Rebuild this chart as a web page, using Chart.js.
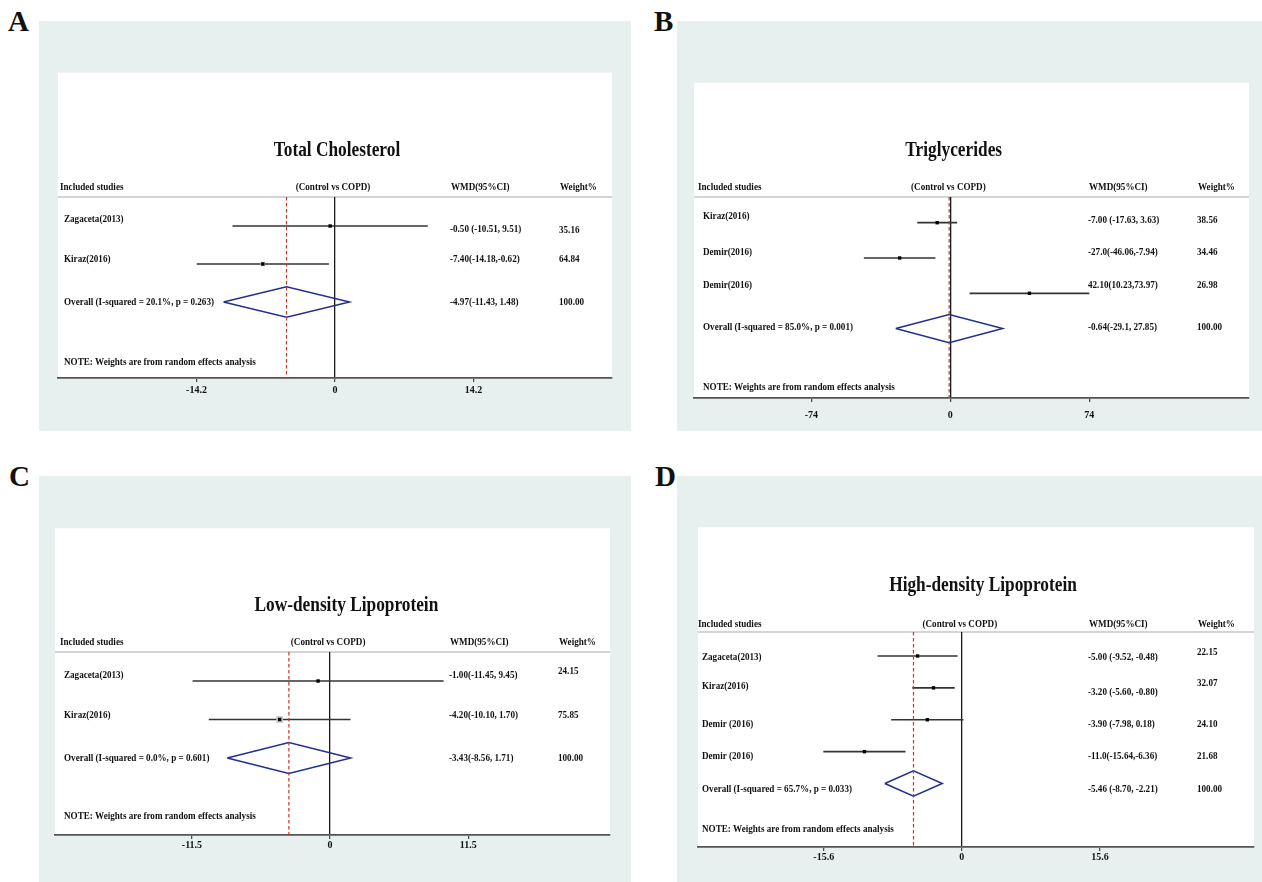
<!DOCTYPE html>
<html>
<head>
<meta charset="utf-8">
<title>Forest plots - lipid profile, Control vs COPD</title>
<script src="https://cdn.jsdelivr.net/npm/chart.js@4.4.0/dist/chart.umd.min.js"></script>
<style>
  body { margin: 0; background: #fff; width: 1262px; height: 882px; position: relative; overflow: hidden; }
  canvas { position: absolute; }
  .tag { position: absolute; font: bold 29px "Liberation Serif", "Times New Roman", serif; line-height: 29px; color: #111; }
</style>
</head>
<body>
<div class="tag" style="left:8px;top:7px">A</div>
<div class="tag" style="left:654px;top:7px">B</div>
<div class="tag" style="left:9px;top:462px">C</div>
<div class="tag" style="left:655px;top:462px">D</div>
<canvas id="chartA"></canvas>
<canvas id="chartB"></canvas>
<canvas id="chartC"></canvas>
<canvas id="chartD"></canvas>
<script>
// ---- DATA ----
// A: Total Cholesterol
const tcStudies = ["Zagaceta(2013)", "Kiraz(2016)"];
const tcEst = [-0.5, -7.4];
const tcLow = [-10.51, -14.18];
const tcHigh = [9.51, -0.62];
const tcWmd = ["-0.50 (-10.51, 9.51)", "-7.40(-14.18,-0.62)"];
const tcWeight = ["35.16", "64.84"];
const tcOverall = [-4.97, -11.43, 1.48]; // estimate, low, high
const tcOverallLabel = "Overall (I-squared = 20.1%, p = 0.263)";
const tcOverallWmd = "-4.97(-11.43, 1.48)";
const tcTicks = [-14.2, 0, 14.2];

// B: Triglycerides
const tgStudies = ["Kiraz(2016)", "Demir(2016)", "Demir(2016)"];
const tgEst = [-7.0, -27.0, 42.1];
const tgLow = [-17.63, -46.06, 10.23];
const tgHigh = [3.63, -7.94, 73.97];
const tgWmd = ["-7.00 (-17.63, 3.63)", "-27.0(-46.06,-7.94)", "42.10(10.23,73.97)"];
const tgWeight = ["38.56", "34.46", "26.98"];
const tgOverall = [-0.64, -29.1, 27.85];
const tgOverallLabel = "Overall (I-squared = 85.0%, p = 0.001)";
const tgOverallWmd = "-0.64(-29.1, 27.85)";
const tgTicks = [-74, 0, 74];

// C: Low-density Lipoprotein
const ldlStudies = ["Zagaceta(2013)", "Kiraz(2016)"];
const ldlEst = [-1.0, -4.2];
const ldlLow = [-11.45, -10.1];
const ldlHigh = [9.45, 1.7];
const ldlWmd = ["-1.00(-11.45, 9.45)", "-4.20(-10.10, 1.70)"];
const ldlWeight = ["24.15", "75.85"];
const ldlOverall = [-3.43, -8.56, 1.71];
const ldlOverallLabel = "Overall (I-squared = 0.0%, p = 0.601)";
const ldlOverallWmd = "-3.43(-8.56, 1.71)";
const ldlTicks = [-11.5, 0, 11.5];

// D: High-density Lipoprotein
const hdlStudies = ["Zagaceta(2013)", "Kiraz(2016)", "Demir (2016)", "Demir (2016)"];
const hdlEst = [-5.0, -3.2, -3.9, -11.0];
const hdlLow = [-9.52, -5.6, -7.98, -15.64];
const hdlHigh = [-0.48, -0.8, 0.18, -6.36];
const hdlWmd = ["-5.00 (-9.52, -0.48)", "-3.20 (-5.60, -0.80)", "-3.90 (-7.98, 0.18)", "-11.0(-15.64,-6.36)"];
const hdlWeight = ["22.15", "32.07", "24.10", "21.68"];
const hdlOverall = [-5.46, -8.7, -2.21];
const hdlOverallLabel = "Overall (I-squared = 65.7%, p = 0.033)";
const hdlOverallWmd = "-5.46 (-8.70, -2.21)";
const hdlTicks = [-15.6, 0, 15.6];

const NOTE = "NOTE: Weights are from random effects analysis";
const FONT = '"Liberation Serif", "Times New Roman", serif';

// ---- HELPERS ----
function txt(ctx, s, x, y, size, align, sx) {
  ctx.save();
  ctx.font = "bold " + size + "px " + FONT;
  ctx.fillStyle = "#111";
  ctx.textBaseline = "middle";
  ctx.textAlign = align;
  ctx.translate(x, y);
  ctx.scale(sx, 1);
  ctx.fillText(s, 0, 0);
  ctx.restore();
}

function forest(cfg) {
  const canvas = document.getElementById(cfg.id);
  canvas.width = cfg.box[2];
  canvas.height = cfg.box[3];
  canvas.style.left = cfg.box[0] + "px";
  canvas.style.top = cfg.box[1] + "px";

  const n = cfg.studies.length;
  const rows = cfg.studies.map((s, i) => i + 1);
  const oRow = n + 1;
  const [oEst, oLow, oHigh] = cfg.overall;

  // lower "order" is drawn on top
  const datasets = [];
  // pooled estimate (dashed red)
  datasets.push({
    order: 0,
    data: [{ x: oEst, y: cfg.y[0] }, { x: oEst, y: cfg.y[1] }],
    showLine: true, borderColor: "#c0392b", borderWidth: 1.2, borderDash: [3.5, 2.5], pointRadius: 0
  });
  // confidence intervals
  rows.forEach((r, i) => {
    datasets.push({
      order: 3,
      data: [{ x: cfg.low[i], y: r }, { x: cfg.high[i], y: r }],
      showLine: true, borderColor: "#333", borderWidth: 1.7, pointRadius: 0
    });
  });
  // weight boxes
  if (cfg.boxes) {
    datasets.push({
      order: 2,
      data: rows.map((r, i) => ({ x: cfg.est[i], y: r })),
      pointStyle: "rect", pointRadius: cfg.boxes, backgroundColor: "#c4c4c4", borderWidth: 0
    });
  }
  // point estimates
  datasets.push({
    order: 1,
    data: rows.map((r, i) => ({ x: cfg.est[i], y: r })),
    pointStyle: "rect", pointRadius: 2.4, backgroundColor: "#000", borderWidth: 0
  });
  // overall diamond
  const h = 0.4;
  datasets.push({
    order: 4,
    data: [
      { x: oLow, y: oRow }, { x: oEst, y: oRow - h }, { x: oHigh, y: oRow },
      { x: oEst, y: oRow + h }, { x: oLow, y: oRow }
    ],
    showLine: true, borderColor: "#232f8e", borderWidth: 1.5, pointRadius: 0, fill: false
  });

  const decor = {
    id: "decor" + cfg.id,
    beforeDraw(chart) {
      const { ctx, chartArea: a } = chart;
      ctx.save();
      ctx.fillStyle = "#e8f0ef";
      ctx.fillRect(0, 0, chart.width, chart.height);
      ctx.fillStyle = "#fff";
      ctx.fillRect(a.left, a.top + cfg.whiteDy, a.right - a.left, a.bottom - a.top - cfg.whiteDy);
      ctx.strokeStyle = "#d4d4d4";
      ctx.lineWidth = 2;
      ctx.beginPath();
      ctx.moveTo(a.left, a.top);
      ctx.lineTo(a.right, a.top);
      ctx.stroke();
      ctx.restore();
    },
    afterDraw(chart) {
      const { ctx, chartArea: a } = chart;
      const xs = chart.scales.x, ys = chart.scales.y;
      const L = a.left;
      txt(ctx, cfg.title, L + cfg.titleDx, a.top - 46.5, 20, "center", 0.865);
      const hy = a.top + cfg.headDy;
      txt(ctx, "Included studies", L + cfg.col[0], hy, 10, "left", 0.91);
      txt(ctx, "(Control vs COPD)", xs.getPixelForValue(0) - 2, hy, 10, "center", 0.91);
      txt(ctx, "WMD(95%CI)", L + cfg.col[2], hy, 10, "left", 0.91);
      txt(ctx, "Weight%", L + cfg.col[3], hy, 10, "left", 0.91);
      const labels = cfg.studies.concat([cfg.overallLabel]);
      const wmds = cfg.wmd.concat([cfg.overallWmd]);
      const weights = cfg.weight.concat(["100.00"]);
      labels.forEach((s, i) => {
        const py = ys.getPixelForValue(i + 1);
        txt(ctx, s, L + cfg.col[1], py + cfg.labelDy[i], 10, "left", 0.91);
        txt(ctx, wmds[i], L + cfg.col[2] - 1, py + cfg.wmdDy[i], 10, "left", 0.91);
        txt(ctx, weights[i], L + cfg.col[3] - 1, py + cfg.weightDy[i], 10, "left", 0.91);
      });
      txt(ctx, NOTE, L + cfg.col[1], ys.getPixelForValue(cfg.noteRow), 10, "left", 0.91);
    }
  };

  return new Chart(canvas.getContext("2d"), {
    type: "scatter",
    data: { datasets },
    options: {
      responsive: false,
      animation: false,
      devicePixelRatio: 1,
      events: [],
      layout: { padding: { left: cfg.pad[0], right: cfg.pad[1], top: cfg.pad[2], bottom: 0 } },
      plugins: { legend: { display: false }, tooltip: { enabled: false } },
      scales: {
        x: {
          type: "linear",
          min: cfg.x[0],
          max: cfg.x[1],
          afterBuildTicks: (s) => { s.ticks = cfg.ticks.map((v) => ({ value: v })); },
          afterFit: (s) => { s.height = cfg.axisH; },
          grid: {
            color: (c) => (c.tick && c.tick.value === 0 ? "#1a1a1a" : "rgba(0,0,0,0)"),
            lineWidth: 1.3,
            tickColor: "#444",
            tickLength: 4,
            tickWidth: 1.2
          },
          border: { color: "#555", width: 1.8 },
          ticks: {
            font: { family: FONT, weight: "bold", size: 10 },
            color: "#111",
            padding: cfg.tickPad,
            maxRotation: 0,
            autoSkip: false,
            callback: (v) => String(v)
          }
        },
        y: { type: "linear", reverse: true, min: cfg.y[0], max: cfg.y[1], display: false }
      }
    },
    plugins: [decor]
  });
}

// ---- PANELS ----
forest({
  id: "chartA", box: [39, 21, 592, 410], pad: [19, 19, 176], axisH: 53,
  x: [-28.4, 28.4], y: [0.237, 5.0], ticks: tcTicks, tickPad: 2,
  title: "Total Cholesterol", titleDx: 279, whiteDy: -124.3, headDy: -9.3,
  col: [2, 6, 393, 502], noteRow: 4.6, boxes: [0, 3.2],
  labelDy: [-6.7, -4.7, 0.3], wmdDy: [3.3, -4.7, 0.3], weightDy: [4, -4.3, 0.3],
  studies: tcStudies, est: tcEst, low: tcLow, high: tcHigh, wmd: tcWmd, weight: tcWeight,
  overall: tcOverall, overallLabel: tcOverallLabel, overallWmd: tcOverallWmd
});

forest({
  id: "chartB", box: [677, 21, 585, 410], pad: [17, 13, 176], axisH: 33,
  x: [-136.5, 159], y: [0.272, 5.966], ticks: tgTicks, tickPad: 7,
  title: "Triglycerides", titleDx: 259.7, whiteDy: -114.3, headDy: -9.3,
  col: [4, 9, 395, 504], noteRow: 5.67,
  labelDy: [-6, -5.7, -8.3, -1.3], wmdDy: [-2.4, -5.3, -8.3, -1.3], weightDy: [-2.4, -5.3, -8.3, -1.3],
  studies: tgStudies, est: tgEst, low: tgLow, high: tgHigh, wmd: tgWmd, weight: tgWeight,
  overall: tgOverall, overallLabel: tgOverallLabel, overallWmd: tgOverallWmd
});

forest({
  id: "chartC", box: [39, 476, 592, 406], pad: [16, 21, 176], axisH: 47,
  x: [-22.9, 23.3], y: [0.247, 5.0], ticks: ldlTicks, tickPad: 0,
  title: "Low-density Lipoprotein", titleDx: 291.4, whiteDy: -123.7, headDy: -9.3,
  col: [5, 9, 395, 504], noteRow: 4.53, boxes: [0, 4.7],
  labelDy: [-6, -4.2, 0.3], wmdDy: [-6, -3.8, 0.3], weightDy: [-10, -4.2, 0.3],
  studies: ldlStudies, est: ldlEst, low: ldlLow, high: ldlHigh, wmd: ldlWmd, weight: ldlWeight,
  overall: ldlOverall, overallLabel: ldlOverallLabel, overallWmd: ldlOverallWmd
});

forest({
  id: "chartD", box: [677, 476, 585, 406], pad: [21, 8, 156], axisH: 35,
  x: [-29.8, 33.0], y: [0.248, 6.99], ticks: hdlTicks, tickPad: 0,
  title: "High-density Lipoprotein", titleDx: 285, whiteDy: -104.7, headDy: -8,
  col: [0, 4, 391, 500], noteRow: 6.45,
  labelDy: [1, -1.9, 4.5, 5, 5.7], wmdDy: [1, 4.4, 4.5, 5, 5.7], weightDy: [-3.3, -4.6, 4.5, 5, 5.7],
  studies: hdlStudies, est: hdlEst, low: hdlLow, high: hdlHigh, wmd: hdlWmd, weight: hdlWeight,
  overall: hdlOverall, overallLabel: hdlOverallLabel, overallWmd: hdlOverallWmd
});
</script>
</body>
</html>
